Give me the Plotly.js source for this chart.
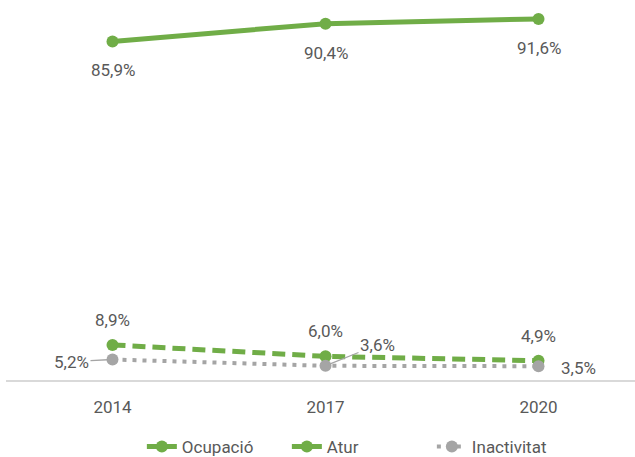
<!DOCTYPE html>
<html><head><meta charset="utf-8">
<script src="https://cdn.plot.ly/plotly-3.0.1.min.js"></script>
<style>html,body{margin:0;padding:0;background:#fff}</style>
</head><body>
<div id="chart" style="width:635px;height:457px"></div>
<script>
const years = ['2014', '2017', '2020'];
const ocupacio = [85.9, 90.4, 91.6];
const atur = [8.9, 6.0, 4.9];
const inactivitat = [5.2, 3.6, 3.5];
const seriesNames = ['Ocupació', 'Atur', 'Inactivitat'];

const green = '#70AD47', gray = '#A5A5A5', txt = '#595959';
const FONT = 'Roboto, sans-serif';
const FS = 17;
const fmt = v => v.toFixed(1).replace('.', ',') + '%';
const idx = years.map((_, i) => i);

const traces = [
  {x: idx, y: ocupacio, name: seriesNames[0], mode: 'lines+markers',
   line: {color: green, width: 5}, marker: {color: green, size: 12}},
  {x: idx, y: atur, name: seriesNames[1], mode: 'lines+markers',
   line: {color: green, width: 5, dash: '13px,7px'}, marker: {color: green, size: 12}},
  {x: idx, y: inactivitat, name: seriesNames[2], mode: 'lines+markers',
   line: {color: gray, width: 4, dash: '4px,6px'}, marker: {color: gray, size: 12}}
];

function lab(x, y, text, extra) {
  const a = {xref: 'x', yref: 'y', x: x, y: y, text: text, showarrow: false,
             font: {family: FONT, size: FS, color: txt}};
  return Object.assign(a, extra || {});
}
const ann = [];
ocupacio.forEach((v, i) => ann.push(lab(i, v, fmt(v), {yshift: -29})));
atur.forEach((v, i) => ann.push(lab(i, v, fmt(v), {yshift: 25})));
ann.push(lab(0, inactivitat[0], fmt(inactivitat[0]), {showarrow: true, arrowhead: 0, arrowwidth: 1.3, arrowcolor: gray, ax: -41, ay: 2, standoff: 5}));
ann.push(lab(1, inactivitat[1], fmt(inactivitat[1]), {showarrow: true, arrowhead: 0, arrowwidth: 1.3, arrowcolor: gray, ax: 52, ay: -21, standoff: 3}));
ann.push(lab(2, inactivitat[2], fmt(inactivitat[2]), {xshift: 40, yshift: -2}));

const layout = {
  width: 635, height: 457,
  margin: {l: 6, r: 0, t: 0, b: 77, autoexpand: false},
  paper_bgcolor: '#fff', plot_bgcolor: '#fff',
  font: {family: FONT, size: FS, color: txt},
  showlegend: true,
  legend: {orientation: 'h', x: 0.216, xanchor: 'left', yref: 'container', y: 0.022, yanchor: 'middle',
           entrywidth: 100, entrywidthmode: 'pixels',
           font: {family: FONT, size: FS, color: txt}, traceorder: 'normal'},
  xaxis: {type: 'linear', range: [-0.5, 2.453], tickvals: idx, ticktext: years, showgrid: false, zeroline: false,
          showline: true, linecolor: '#D9D9D9', linewidth: 1.5, ticks: '',
          ticklabelstandoff: 11, tickfont: {family: FONT, size: FS, color: txt}, fixedrange: true},
  yaxis: {range: [0, 96.4], showgrid: false, zeroline: false, showline: false,
          showticklabels: false, ticks: '', fixedrange: true},
  annotations: ann
};

Plotly.newPlot('chart', traces, layout, {displayModeBar: false, staticPlot: true});
</script>
</body></html>
